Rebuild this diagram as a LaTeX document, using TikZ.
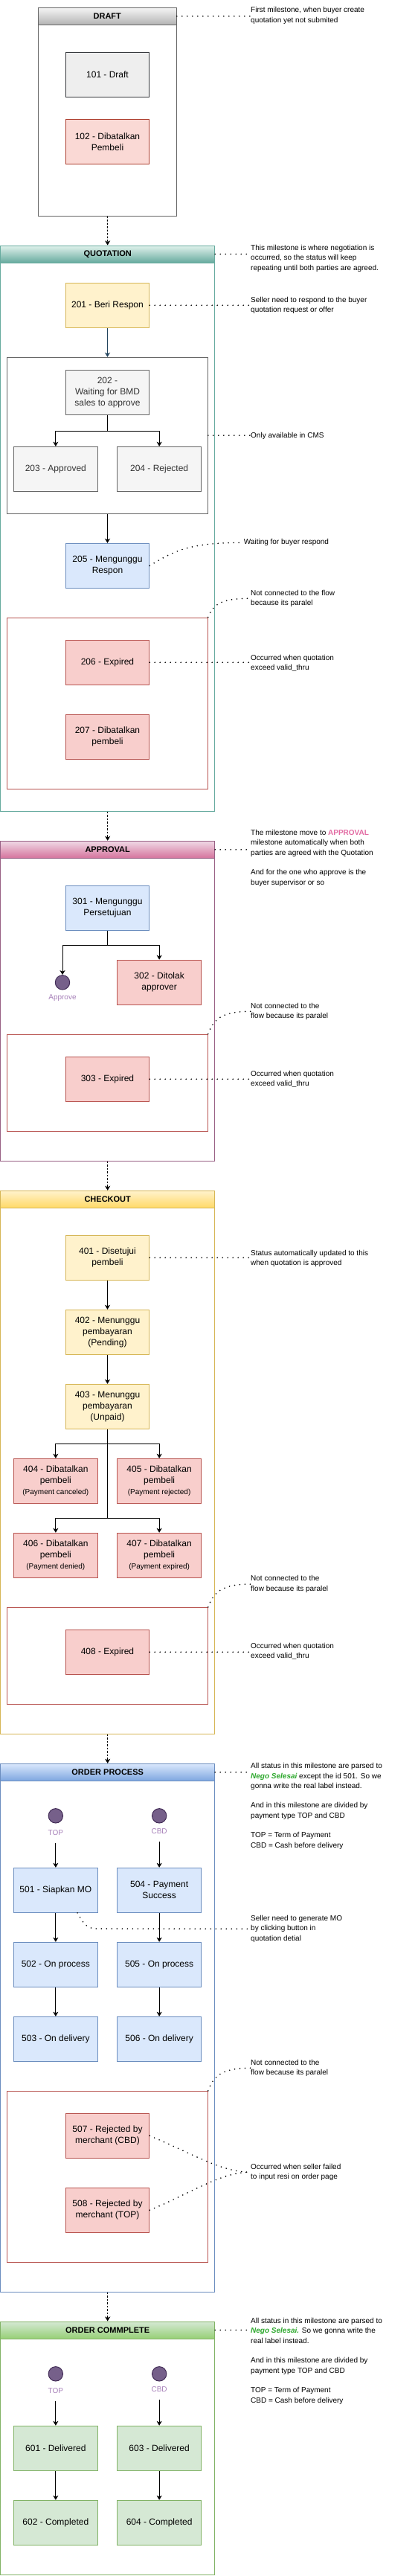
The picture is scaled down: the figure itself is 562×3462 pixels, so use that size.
\documentclass[tikz,border=0pt]{standalone}
\usepackage{fontspec}
\setmainfont{Liberation Sans}
\usetikzlibrary{arrows.meta}

\definecolor{greyfill}{HTML}{EEEEEE}
\definecolor{greyline}{HTML}{36393D}
\definecolor{draftred}{HTML}{FAD9D5}
\definecolor{draftredline}{HTML}{AE4132}
\definecolor{redfill}{HTML}{F8CECC}
\definecolor{redline}{HTML}{B85450}
\definecolor{yelfill}{HTML}{FFF2CC}
\definecolor{yelline}{HTML}{D6B656}
\definecolor{bluefill}{HTML}{DAE8FC}
\definecolor{blueline}{HTML}{6C8EBF}
\definecolor{grnfill}{HTML}{D5E8D4}
\definecolor{grnline}{HTML}{82B366}
\definecolor{cmsfill}{HTML}{F5F5F5}
\definecolor{cmsline}{HTML}{666666}
\definecolor{cmstext}{HTML}{333333}
\definecolor{dotfill}{HTML}{76608A}
\definecolor{dotline}{HTML}{432D57}
\definecolor{dottext}{HTML}{A680B8}
\definecolor{flowblue}{HTML}{23445D}
\definecolor{drafttop}{HTML}{F5F5F5}
\definecolor{draftbot}{HTML}{B3B3B3}
\definecolor{quottop}{HTML}{E1F2EC}
\definecolor{quotbot}{HTML}{67AB9F}
\definecolor{apprtop}{HTML}{EFD9E5}
\definecolor{apprbot}{HTML}{D5739D}
\definecolor{apprline}{HTML}{996185}
\definecolor{chktop}{HTML}{FFF2CC}
\definecolor{chkbot}{HTML}{FFD966}
\definecolor{ordtop}{HTML}{DAE8FC}
\definecolor{ordbot}{HTML}{7EA6E0}
\definecolor{donetop}{HTML}{D5E8D4}
\definecolor{donebot}{HTML}{97D077}
\definecolor{apprpink}{HTML}{E26AA2}
\definecolor{negogreen}{HTML}{2DA82D}

\begin{document}
\begin{tikzpicture}[x=1pt, y=-1pt,
  stat/.style={draw, line width=1pt, minimum width=112.4pt, minimum height=60pt,
    inner sep=0pt, align=center, font=\fontsize{12}{15}\selectfont},
  greybox/.style={stat, fill=greyfill, draw=greyline},
  redbox/.style={stat, fill=redfill, draw=redline},
  yellowbox/.style={stat, fill=yelfill, draw=yelline},
  bluebox/.style={stat, fill=bluefill, draw=blueline},
  greenbox/.style={stat, fill=grnfill, draw=grnline},
  cmsbox/.style={stat, fill=cmsfill, draw=cmsline, text=cmstext},
  frame/.style={draw, line width=1pt, inner sep=0pt, minimum width=288pt},
  group/.style={draw, line width=1pt, inner sep=0pt, minimum width=269.6pt},
  head/.style={draw, line width=1pt, minimum height=23pt, inner sep=0pt, anchor=north,
    minimum width=288pt, font=\fontsize{11}{13}\selectfont\bfseries},
  dot/.style={circle, fill=dotfill, draw=dotline, line width=1pt, minimum size=19.4pt, inner sep=0pt},
  dotlabel/.style={inner sep=0pt, text=dottext, font=\fontsize{10}{12}\selectfont},
  note/.style={anchor=west, align=left, inner sep=0pt, font=\fontsize{10}{13.3}\selectfont},
  flow/.style={line width=1pt, -{Stealth[length=6pt, width=7pt, inset=1.5pt]}},
  hop/.style={flow, dash pattern=on 2.5pt off 2pt},
  dots/.style={line width=1.8pt, line cap=round, dash pattern=on 0pt off 7pt},
]
  \useasboundingbox (0,0) rectangle (562,3462);

  % Draft
  \node[frame, draw=cmsline, minimum width=186pt, minimum height=279.7pt] (draft) at (144.3,150.15) {};
  \node[head, draw=cmsline, top color=drafttop, bottom color=draftbot, minimum width=186pt] (drafthead) at (draft.north) {DRAFT};
  \node[greybox] (n101) at (144.5,100.3) {101 - Draft};
  \node[stat, fill=draftred, draw=draftredline] (n102) at (144.5,190.3) {102 - Dibatalkan\\Pembeli};
  \node[note] (m1) at (337,20.8) {First milestone, when buyer create\\quotation yet not submited};
  \draw[dots] (drafthead.east) -- (drafthead.east -| m1.west);

  % Quotation
  \node[frame, draw=quotbot, minimum height=760pt] (quot) at (144.7,710) {};
  \node[head, draw=quotbot, top color=quottop, bottom color=quotbot] (quothead) at (quot.north) {QUOTATION};
  \node[note] (m2) at (337,347.3) {This milestone is where negotiation is\\occurred, so the status will keep\\repeating until both parties are agreed.};
  \draw[dots] (quothead.east) -- (quothead.east -| m2.west);
  \node[yellowbox] (n201) at (144.5,410.3) {201 - Beri Respon};
  \node[note] (m3) at (337,410.3) {Seller need to respond to the buyer\\quotation request or offer};
  \draw[dots] (n201.east) -- (n201.east -| m3.west);
  \node[group, draw=cmsline, minimum height=209.7pt] (cms) at (144.5,585.15) {};
  \draw[flow, color=flowblue] (n201.south) -- (cms.north);
  \node[cmsbox] (n202) at (144.5,527.3) {202 -\\Waiting for BMD\\sales to approve};
  \node[cmsbox] (n203) at (74.85,630.3) {203 - Approved};
  \node[cmsbox] (n204) at (214.15,630.3) {204 - Rejected};
  \draw[flow] (n202.south) -- ++(0,21.4) -| (n203.north);
  \draw[flow] (n202.south) -- ++(0,21.4) -| (n204.north);
  \node[note] (m4) at (337,585.7) {Only available in CMS};
  \draw[dots] (cms.east) -- (cms.east -| m4.west);
  \node[bluebox] (n205) at (144.5,760.3) {205 - Mengunggu\\Respon};
  \draw[flow] (cms.south) -- (n205.north);
  \node[note] (m5) at (327.7,729.3) {Waiting for buyer respond};
  \draw[dots] (n205.east) .. controls +(36,-22) and +(-70,0) .. (m5.west);
  \node[group, draw=redline, minimum height=230.3pt] (qpar) at (144.5,945.15) {};
  \node[note] (m6) at (337,804.3) {Not connected to the flow\\because its paralel};
  \draw[dots] (qpar.north east) .. controls +(8,-20) and +(-36,0) .. (m6.west);
  \node[redbox] (n206) at (144.5,890.3) {206 - Expired};
  \node[note] (m7) at (337,891.3) {Occurred when quotation\\exceed valid\_thru};
  \draw[dots] (n206.east) -- (n206.east -| m7.west);
  \node[redbox] (n207) at (144.5,990.3) {207 - Dibatalkan\\pembeli};

  % Approval
  \node[frame, draw=apprline, minimum height=429.7pt] (appr) at (144.7,1345.15) {};
  \node[head, draw=apprline, top color=apprtop, bottom color=apprbot] (apprhead) at (appr.north) {APPROVAL};
  \node[note] (m8) at (337,1153.3) {The milestone move to \textcolor{apprpink}{\bfseries APPROVAL}\\milestone automatically when both\\parties are agreed with the Quotation\\[13.3pt]And for the one who approve is the\\buyer supervisor or so};
  \draw[dots] (apprhead.east) -- (apprhead.east -| m8.west);
  \node[bluebox] (n301) at (144.5,1220.3) {301 - Mengunggu\\Persetujuan};
  \node[dot] (approve) at (84,1320.3) {};
  \node[dotlabel] (approvelbl) at (84,1341.3) {Approve};
  \node[redbox] (n302) at (214.15,1320.2) {302 - Ditolak\\approver};
  \draw[flow] (n301.south) -- ++(0,20) -| (approve.north);
  \draw[flow] (n301.south) -- ++(0,20) -| (n302.north);
  \node[group, draw=redline, minimum height=130.3pt] (apar) at (144.5,1455.15) {};
  \node[note] (m9) at (337,1359.3) {Not connected to the\\flow because its paralel};
  \draw[dots] (apar.north east) .. controls +(8,-22) and +(-36,0) .. (m9.west);
  \node[redbox] (n303) at (144.5,1450.3) {303 - Expired};
  \node[note] (m10) at (337,1450.3) {Occurred when quotation\\exceed valid\_thru};
  \draw[dots] (n303.east) -- (n303.east -| m10.west);

  % Checkout
  \node[frame, draw=yelline, minimum height=729.7pt] (chk) at (144.7,1965.15) {};
  \node[head, draw=yelline, top color=chktop, bottom color=chkbot] (chkhead) at (chk.north) {CHECKOUT};
  \node[yellowbox] (n401) at (144.5,1690.3) {401 - Disetujui\\pembeli};
  \node[note] (m11) at (337,1691.3) {Status automatically updated to this\\when quotation is approved};
  \draw[dots] (n401.east) -- (n401.east -| m11.west);
  \node[yellowbox] (n402) at (144.5,1790.3) {402 - Menunggu\\pembayaran\\(Pending)};
  \node[yellowbox] (n403) at (144.5,1890.3) {403 - Menunggu\\pembayaran\\(Unpaid)};
  \draw[flow] (n401) -- (n402);
  \draw[flow] (n402) -- (n403);
  \node[redbox] (n404) at (74.85,1990.3) {404 - Dibatalkan\\pembeli\\{\fontsize{10}{13}\selectfont(Payment canceled)}};
  \node[redbox] (n405) at (214.15,1990.3) {405 - Dibatalkan\\pembeli\\{\fontsize{10}{13}\selectfont(Payment rejected)}};
  \node[redbox] (n406) at (74.85,2090.3) {406 - Dibatalkan\\pembeli\\{\fontsize{10}{13}\selectfont(Payment denied)}};
  \node[redbox] (n407) at (214.15,2090.3) {407 - Dibatalkan\\pembeli\\{\fontsize{10}{13}\selectfont(Payment expired)}};
  \draw[flow] (n403.south) -- ++(0,20) -| (n404.north);
  \draw[flow] (n403.south) -- ++(0,20) -| (n405.north);
  \draw[flow] (n403.south) -- ++(0,120) -| (n406.north);
  \draw[flow] (n403.south) -- ++(0,120) -| (n407.north);
  \node[group, draw=redline, minimum height=130pt] (cpar) at (144.5,2225.3) {};
  \node[note] (m12) at (337,2129) {Not connected to the\\flow because its paralel};
  \draw[dots] (cpar.north east) .. controls +(8,-22) and +(-36,0) .. (m12.west);
  \node[redbox] (n408) at (144.5,2220.3) {408 - Expired};
  \node[note] (m13) at (337,2219.3) {Occurred when quotation\\exceed valid\_thru};
  \draw[dots] (n408.east) -- (n408.east -| m13.west);

  % Order process
  \node[frame, draw=blueline, minimum height=710pt] (ord) at (144.7,2725.3) {};
  \node[head, draw=blueline, top color=ordtop, bottom color=ordbot] (ordhead) at (ord.north) {ORDER PROCESS};
  \node[note] (m14) at (337,2427.3) {All status in this milestone are parsed to\\\textcolor{negogreen}{\bfseries\itshape Nego Selesai} except the id 501. So we\\gonna write the real label instead.\\[13.3pt]And in this milestone are divided by\\payment type TOP and CBD\\[13.3pt]TOP = Term of Payment\\CBD = Cash before delivery};
  \draw[dots] (ordhead.east) -- (ordhead.east -| m14.west);
  \node[dot] (topdot) at (74.85,2440.3) {};
  \node[dotlabel] (toplbl) at (74.85,2463) {TOP};
  \node[dot] (cbddot) at (214.15,2440.3) {};
  \node[dotlabel] (cbdlbl) at (214.15,2461.3) {CBD};
  \node[bluebox] (n501) at (74.85,2540.3) {501 - Siapkan MO};
  \node[bluebox] (n504) at (214.15,2540.3) {504 - Payment\\Success};
  \node[bluebox] (n502) at (74.85,2640.3) {502 - On process};
  \node[bluebox] (n505) at (214.15,2640.3) {505 - On process};
  \node[bluebox] (n503) at (74.85,2740.3) {503 - On delivery};
  \node[bluebox] (n506) at (214.15,2740.3) {506 - On delivery};
  \draw[flow, shorten <=10pt] (toplbl.south) -- (n501.north);
  \draw[flow, shorten <=10pt] (cbdlbl.south) -- (n504.north);
  \draw[flow] (n501) -- (n502);
  \draw[flow] (n502) -- (n503);
  \draw[flow] (n504) -- (n505);
  \draw[flow] (n505) -- (n506);
  \node[note] (m15) at (337,2592.3) {Seller need to generate MO\\by clicking button in\\quotation detial};
  \coordinate (moflat) at (130,2592);
  \draw[dots] ([xshift=-27.4pt]n501.south east) .. controls +(8,14) and +(-14,0) .. (moflat) -- (m15.west);
  \node[group, draw=redline, minimum height=230pt] (opar) at (144.5,2925.3) {};
  \node[note] (m16) at (337,2779.3) {Not connected to the\\flow because its paralel};
  \draw[dots] (opar.north east) .. controls +(8,-22) and +(-36,0) .. (m16.west);
  \node[redbox] (n507) at (144.5,2870.3) {507 - Rejected by\\merchant (CBD)};
  \node[redbox] (n508) at (144.5,2970.3) {508 - Rejected by\\merchant (TOP)};
  \node[note] (m17) at (337,2919.2) {Occurred when seller failed\\to input resi on order page};
  \draw[dots] (n507.east) .. controls +(60,25) and +(-40,0) .. (m17.west);
  \draw[dots] (n508.east) .. controls +(60,-25) and +(-40,0) .. (m17.west);

  % Order complete
  \node[frame, draw=grnline, minimum height=340.3pt] (done) at (144.7,3290.15) {};
  \node[head, draw=grnline, top color=donetop, bottom color=donebot] (donehead) at (done.north) {ORDER COMMPLETE};
  \node[note] (m18) at (337,3173.2) {All status in this milestone are parsed to\\\textcolor{negogreen}{\bfseries\itshape Nego Selesai.} So we gonna write the\\real label instead.\\[13.3pt]And in this milestone are divided by\\payment type TOP and CBD\\[13.3pt]TOP = Term of Payment\\CBD = Cash before delivery};
  \draw[dots] (donehead.east) -- (donehead.east -| m18.west);
  \node[dot] (topdot2) at (74.85,3190.3) {};
  \node[dotlabel] (toplbl2) at (74.85,3213) {TOP};
  \node[dot] (cbddot2) at (214.15,3190.3) {};
  \node[dotlabel] (cbdlbl2) at (214.15,3211.3) {CBD};
  \node[greenbox] (n601) at (74.85,3290.3) {601 - Delivered};
  \node[greenbox] (n603) at (214.15,3290.3) {603 - Delivered};
  \node[greenbox] (n602) at (74.85,3390.3) {602 - Completed};
  \node[greenbox] (n604) at (214.15,3390.3) {604 - Completed};
  \draw[flow, shorten <=10pt] (toplbl2.south) -- (n601.north);
  \draw[flow, shorten <=10pt] (cbdlbl2.south) -- (n603.north);
  \draw[flow] (n601) -- (n602);
  \draw[flow] (n603) -- (n604);

  % Milestone to milestone
  \foreach \a/\b in {draft/quot, quot/appr, appr/chk, chk/ord, ord/done}
    \draw[hop] (\a.south) -- (\b.north);
\end{tikzpicture}
\end{document}
